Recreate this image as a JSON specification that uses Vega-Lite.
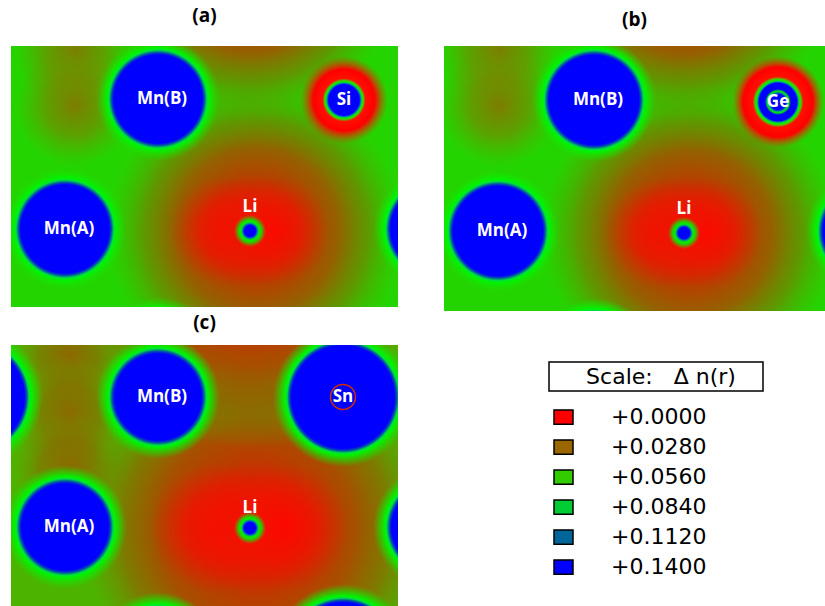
{
  "$schema": "https://vega.github.io/schema/vega-lite/v6.json",
  "padding": {"left": 11, "top": 7, "right": 0, "bottom": 0},
  "background": "white",
  "config": {
    "view": {"stroke": null},
    "title": {"font": "Open Sans", "fontSize": 19, "fontWeight": "bold", "color": "black"}
  },
  "datasets": {
    "atoms": [
      {"panel": "a", "kind": "olive", "label": "", "x": 64, "y": 5},
      {"panel": "a", "kind": "olive", "label": "", "x": 64, "y": 60},
      {"panel": "a", "kind": "halo", "label": "", "x": 245, "y": 185},
      {"panel": "a", "kind": "halo", "label": "", "x": 239, "y": -75},
      {"panel": "a", "kind": "core", "label": "", "x": 215, "y": 185},
      {"panel": "a", "kind": "core", "label": "", "x": 239, "y": 185},
      {"panel": "a", "kind": "core", "label": "", "x": 263, "y": 185},
      {"panel": "a", "kind": "Mn", "label": "Mn(B)", "x": 147, "y": 53},
      {"panel": "a", "kind": "Mn", "label": "Mn(A)", "x": 54, "y": 183},
      {"panel": "a", "kind": "Mn", "label": "", "x": 424, "y": 183},
      {"panel": "a", "kind": "Mn", "label": "", "x": 147, "y": 313},
      {"panel": "a", "kind": "X", "label": "Si", "x": 333, "y": 54},
      {"panel": "a", "kind": "X", "label": "", "x": 333, "y": 314},
      {"panel": "a", "kind": "Li", "label": "Li", "x": 239, "y": 185},

      {"panel": "b", "kind": "olive", "label": "", "x": 55, "y": 5},
      {"panel": "b", "kind": "olive", "label": "", "x": 55, "y": 60},
      {"panel": "b", "kind": "halo", "label": "", "x": 246, "y": 187},
      {"panel": "b", "kind": "halo", "label": "", "x": 240, "y": -73},
      {"panel": "b", "kind": "core", "label": "", "x": 216, "y": 187},
      {"panel": "b", "kind": "core", "label": "", "x": 240, "y": 187},
      {"panel": "b", "kind": "core", "label": "", "x": 264, "y": 187},
      {"panel": "b", "kind": "Mn", "label": "Mn(B)", "x": 150, "y": 54},
      {"panel": "b", "kind": "Mn", "label": "Mn(A)", "x": 54, "y": 185},
      {"panel": "b", "kind": "Mn", "label": "", "x": 424, "y": 185},
      {"panel": "b", "kind": "Mn", "label": "", "x": 150, "y": 314},
      {"panel": "b", "kind": "X", "label": "Ge", "x": 334, "y": 56},
      {"panel": "b", "kind": "X", "label": "", "x": 334, "y": 316},
      {"panel": "b", "kind": "Li", "label": "Li", "x": 240, "y": 187},

      {"panel": "c", "kind": "olive", "label": "", "x": 59, "y": 10},
      {"panel": "c", "kind": "olive", "label": "", "x": 59, "y": 70},
      {"panel": "c", "kind": "olive", "label": "", "x": 59, "y": 125},
      {"panel": "c", "kind": "halo", "label": "", "x": 245, "y": 183},
      {"panel": "c", "kind": "halo", "label": "", "x": 239, "y": -77},
      {"panel": "c", "kind": "core", "label": "", "x": 205, "y": 183},
      {"panel": "c", "kind": "core", "label": "", "x": 239, "y": 183},
      {"panel": "c", "kind": "core", "label": "", "x": 273, "y": 183},
      {"panel": "c", "kind": "Mn", "label": "Mn(B)", "x": 147, "y": 52},
      {"panel": "c", "kind": "Mn", "label": "Mn(A)", "x": 54, "y": 182},
      {"panel": "c", "kind": "Mn", "label": "", "x": 424, "y": 182},
      {"panel": "c", "kind": "Mn", "label": "", "x": 147, "y": 309},
      {"panel": "c", "kind": "X", "label": "Sn", "x": 332, "y": 52},
      {"panel": "c", "kind": "X", "label": "", "x": -38, "y": 52},
      {"panel": "c", "kind": "X", "label": "", "x": 332, "y": 309},
      {"panel": "c", "kind": "Li", "label": "Li", "x": 239, "y": 183}
    ]
  },
  "spacing": 3,
  "vconcat": [
    {
      "spacing": 46,
      "hconcat": [
        {
          "width": 387, "height": 261,
          "title": {"text": "(a)", "offset": 20},
          "view": {"fill": "#24d400", "stroke": null},
          "data": {"name": "atoms"},
          "transform": [{"filter": "datum.panel == 'a'"}],
          "encoding": {
            "x": {"field": "x", "type": "quantitative", "scale": {"domain": [0, 387], "nice": false, "zero": false}, "axis": null},
            "y": {"field": "y", "type": "quantitative", "scale": {"domain": [0, 261], "nice": false, "zero": false, "reverse": true}, "axis": null}
          },
          "layer": [
            {"transform": [{"filter": "datum.kind == 'olive'"}],
             "mark": {"type": "circle", "size": 14400, "opacity": 1, "clip": true,
               "fill": {"gradient": "radial", "x1": 0.5, "y1": 0.5, "r1": 0, "x2": 0.5, "y2": 0.5, "r2": 0.5,
                 "stops": [{"offset": 0, "color": "rgba(130,120,0,0.95)"}, {"offset": 0.5, "color": "rgba(120,135,0,0.65)"}, {"offset": 1, "color": "rgba(100,160,0,0)"}]}}},
            {"transform": [{"filter": "datum.kind == 'halo'"}],
             "mark": {"type": "circle", "size": 90000, "opacity": 1, "clip": true,
               "fill": {"gradient": "radial", "x1": 0.5, "y1": 0.5, "r1": 0, "x2": 0.5, "y2": 0.5, "r2": 0.5,
                 "stops": [{"offset": 0, "color": "rgba(215,35,0,1)"}, {"offset": 0.3, "color": "rgba(192,55,0,1)"}, {"offset": 0.55, "color": "rgba(160,85,0,0.9)"}, {"offset": 0.75, "color": "rgba(130,115,0,0.6)"}, {"offset": 0.9, "color": "rgba(100,150,0,0.25)"}, {"offset": 1, "color": "rgba(80,180,0,0)"}]}}},
            {"transform": [{"filter": "datum.kind == 'core'"}],
             "mark": {"type": "circle", "size": 12100, "opacity": 1, "clip": true,
               "fill": {"gradient": "radial", "x1": 0.5, "y1": 0.5, "r1": 0, "x2": 0.5, "y2": 0.5, "r2": 0.5,
                 "stops": [{"offset": 0, "color": "rgba(250,10,0,1)"}, {"offset": 0.5, "color": "rgba(240,20,0,0.7)"}, {"offset": 1, "color": "rgba(220,35,0,0)"}]}}},
            {"transform": [{"filter": "datum.kind == 'X'"}],
             "mark": {"type": "circle", "size": 7744, "opacity": 1, "clip": true,
               "fill": {"gradient": "radial", "x1": 0.5, "y1": 0.5, "r1": 0, "x2": 0.5, "y2": 0.5, "r2": 0.5,
                 "stops": [{"offset": 0, "color": "#0000ff"}, {"offset": 0.35, "color": "#0000ff"}, {"offset": 0.385, "color": "#0090a0"}, {"offset": 0.41, "color": "#00f000"}, {"offset": 0.44, "color": "#40d000"}, {"offset": 0.49, "color": "#ff1000"}, {"offset": 0.7, "color": "#ff0000"}, {"offset": 0.85, "color": "rgba(230,40,0,0.5)"}, {"offset": 1, "color": "rgba(180,90,0,0)"}]}}},
            {"transform": [{"filter": "datum.kind == 'Mn'"}],
             "mark": {"type": "circle", "size": 15376, "opacity": 1, "clip": true,
               "fill": {"gradient": "radial", "x1": 0.5, "y1": 0.5, "r1": 0, "x2": 0.5, "y2": 0.5, "r2": 0.5,
                 "stops": [{"offset": 0, "color": "#0000ff"}, {"offset": 0.715, "color": "#0000ff"}, {"offset": 0.75, "color": "#0058a0"}, {"offset": 0.79, "color": "#00e040"}, {"offset": 0.82, "color": "#00f400"}, {"offset": 0.9, "color": "rgba(20,230,0,0.55)"}, {"offset": 1, "color": "rgba(30,215,0,0)"}]}}},
            {"transform": [{"filter": "datum.kind == 'Li'"}],
             "mark": {"type": "circle", "size": 1024, "opacity": 1, "clip": true,
               "fill": {"gradient": "radial", "x1": 0.5, "y1": 0.5, "r1": 0, "x2": 0.5, "y2": 0.5, "r2": 0.5,
                 "stops": [{"offset": 0, "color": "#0000ff"}, {"offset": 0.36, "color": "#0000ff"}, {"offset": 0.46, "color": "#0080a0"}, {"offset": 0.56, "color": "#00f000"}, {"offset": 0.7, "color": "rgba(0,240,0,0.85)"}, {"offset": 1, "color": "rgba(40,220,0,0)"}]}}},
            {"transform": [{"filter": "datum.kind == 'Mn' && datum.label != ''"}],
             "mark": {"type": "text", "font": "Open Sans", "fontWeight": "bold", "fontSize": 17, "color": "white", "align": "center", "baseline": "middle", "dx": 4},
             "encoding": {"text": {"field": "label"}}},
            {"transform": [{"filter": "datum.kind == 'Li'"}],
             "mark": {"type": "text", "font": "Open Sans", "fontWeight": "bold", "fontSize": 17, "color": "white", "align": "center", "baseline": "middle", "dy": -24},
             "encoding": {"text": {"field": "label"}}},
            {"transform": [{"filter": "datum.kind == 'X' && datum.label != ''"}],
             "mark": {"type": "text", "font": "Open Sans", "fontWeight": "bold", "fontSize": 17, "color": "white", "align": "center", "baseline": "middle"},
             "encoding": {"text": {"field": "label"}}}
          ]
        },
        {
          "width": 381, "height": 265,
          "title": {"text": "(b)", "offset": 16},
          "view": {"fill": "#24d400", "stroke": null},
          "data": {"name": "atoms"},
          "transform": [{"filter": "datum.panel == 'b'"}],
          "encoding": {
            "x": {"field": "x", "type": "quantitative", "scale": {"domain": [0, 381], "nice": false, "zero": false}, "axis": null},
            "y": {"field": "y", "type": "quantitative", "scale": {"domain": [0, 265], "nice": false, "zero": false, "reverse": true}, "axis": null}
          },
          "layer": [
            {"transform": [{"filter": "datum.kind == 'olive'"}],
             "mark": {"type": "circle", "size": 14400, "opacity": 1, "clip": true,
               "fill": {"gradient": "radial", "x1": 0.5, "y1": 0.5, "r1": 0, "x2": 0.5, "y2": 0.5, "r2": 0.5,
                 "stops": [{"offset": 0, "color": "rgba(130,120,0,0.95)"}, {"offset": 0.5, "color": "rgba(120,135,0,0.65)"}, {"offset": 1, "color": "rgba(100,160,0,0)"}]}}},
            {"transform": [{"filter": "datum.kind == 'halo'"}],
             "mark": {"type": "circle", "size": 90000, "opacity": 1, "clip": true,
               "fill": {"gradient": "radial", "x1": 0.5, "y1": 0.5, "r1": 0, "x2": 0.5, "y2": 0.5, "r2": 0.5,
                 "stops": [{"offset": 0, "color": "rgba(215,35,0,1)"}, {"offset": 0.3, "color": "rgba(192,55,0,1)"}, {"offset": 0.55, "color": "rgba(160,85,0,0.9)"}, {"offset": 0.75, "color": "rgba(130,115,0,0.6)"}, {"offset": 0.9, "color": "rgba(100,150,0,0.25)"}, {"offset": 1, "color": "rgba(80,180,0,0)"}]}}},
            {"transform": [{"filter": "datum.kind == 'core'"}],
             "mark": {"type": "circle", "size": 12100, "opacity": 1, "clip": true,
               "fill": {"gradient": "radial", "x1": 0.5, "y1": 0.5, "r1": 0, "x2": 0.5, "y2": 0.5, "r2": 0.5,
                 "stops": [{"offset": 0, "color": "rgba(250,10,0,1)"}, {"offset": 0.5, "color": "rgba(240,20,0,0.7)"}, {"offset": 1, "color": "rgba(220,35,0,0)"}]}}},
            {"transform": [{"filter": "datum.kind == 'X'"}],
             "mark": {"type": "circle", "size": 8464, "opacity": 1, "clip": true,
               "fill": {"gradient": "radial", "x1": 0.5, "y1": 0.5, "r1": 0, "x2": 0.5, "y2": 0.5, "r2": 0.5,
                 "stops": [{"offset": 0, "color": "#0000ff"}, {"offset": 0.17, "color": "#0000ff"}, {"offset": 0.21, "color": "#00b070"}, {"offset": 0.24, "color": "#00e800"}, {"offset": 0.28, "color": "#0000ff"}, {"offset": 0.41, "color": "#0000ff"}, {"offset": 0.44, "color": "#0090a0"}, {"offset": 0.46, "color": "#00f000"}, {"offset": 0.5, "color": "#40d000"}, {"offset": 0.55, "color": "#ff1000"}, {"offset": 0.76, "color": "#ff0000"}, {"offset": 0.88, "color": "rgba(230,40,0,0.5)"}, {"offset": 1, "color": "rgba(180,90,0,0)"}]}}},
            {"transform": [{"filter": "datum.kind == 'Mn'"}],
             "mark": {"type": "circle", "size": 15376, "opacity": 1, "clip": true,
               "fill": {"gradient": "radial", "x1": 0.5, "y1": 0.5, "r1": 0, "x2": 0.5, "y2": 0.5, "r2": 0.5,
                 "stops": [{"offset": 0, "color": "#0000ff"}, {"offset": 0.725, "color": "#0000ff"}, {"offset": 0.76, "color": "#0058a0"}, {"offset": 0.8, "color": "#00e040"}, {"offset": 0.83, "color": "#00f400"}, {"offset": 0.91, "color": "rgba(20,230,0,0.55)"}, {"offset": 1, "color": "rgba(30,215,0,0)"}]}}},
            {"transform": [{"filter": "datum.kind == 'Li'"}],
             "mark": {"type": "circle", "size": 1024, "opacity": 1, "clip": true,
               "fill": {"gradient": "radial", "x1": 0.5, "y1": 0.5, "r1": 0, "x2": 0.5, "y2": 0.5, "r2": 0.5,
                 "stops": [{"offset": 0, "color": "#0000ff"}, {"offset": 0.36, "color": "#0000ff"}, {"offset": 0.46, "color": "#0080a0"}, {"offset": 0.56, "color": "#00f000"}, {"offset": 0.7, "color": "rgba(0,240,0,0.85)"}, {"offset": 1, "color": "rgba(40,220,0,0)"}]}}},
            {"transform": [{"filter": "datum.kind == 'Mn' && datum.label != ''"}],
             "mark": {"type": "text", "font": "Open Sans", "fontWeight": "bold", "fontSize": 17, "color": "white", "align": "center", "baseline": "middle", "dx": 4},
             "encoding": {"text": {"field": "label"}}},
            {"transform": [{"filter": "datum.kind == 'Li'"}],
             "mark": {"type": "text", "font": "Open Sans", "fontWeight": "bold", "fontSize": 17, "color": "white", "align": "center", "baseline": "middle", "dy": -24},
             "encoding": {"text": {"field": "label"}}},
            {"transform": [{"filter": "datum.kind == 'X' && datum.label != ''"}],
             "mark": {"type": "text", "font": "Open Sans", "fontWeight": "bold", "fontSize": 17, "color": "white", "align": "center", "baseline": "middle"},
             "encoding": {"text": {"field": "label"}}}
          ]
        }
      ]
    },
    {
      "spacing": 150,
      "hconcat": [
        {
          "width": 387, "height": 262,
          "title": {"text": "(c)", "offset": 12},
          "view": {"fill": "#4cb400", "stroke": null},
          "data": {"name": "atoms"},
          "transform": [{"filter": "datum.panel == 'c'"}],
          "encoding": {
            "x": {"field": "x", "type": "quantitative", "scale": {"domain": [0, 387], "nice": false, "zero": false}, "axis": null},
            "y": {"field": "y", "type": "quantitative", "scale": {"domain": [0, 262], "nice": false, "zero": false, "reverse": true}, "axis": null}
          },
          "layer": [
            {"transform": [{"filter": "datum.kind == 'olive'"}],
             "mark": {"type": "circle", "size": 14400, "opacity": 1, "clip": true,
               "fill": {"gradient": "radial", "x1": 0.5, "y1": 0.5, "r1": 0, "x2": 0.5, "y2": 0.5, "r2": 0.5,
                 "stops": [{"offset": 0, "color": "rgba(145,100,0,0.95)"}, {"offset": 0.5, "color": "rgba(135,110,0,0.7)"}, {"offset": 1, "color": "rgba(110,150,0,0)"}]}}},
            {"transform": [{"filter": "datum.kind == 'halo'"}],
             "mark": {"type": "circle", "size": 129600, "opacity": 1, "clip": true,
               "fill": {"gradient": "radial", "x1": 0.5, "y1": 0.5, "r1": 0, "x2": 0.5, "y2": 0.5, "r2": 0.5,
                 "stops": [{"offset": 0, "color": "rgba(225,30,0,1)"}, {"offset": 0.3, "color": "rgba(200,48,0,1)"}, {"offset": 0.55, "color": "rgba(170,75,0,0.95)"}, {"offset": 0.75, "color": "rgba(145,100,0,0.7)"}, {"offset": 0.9, "color": "rgba(115,135,0,0.3)"}, {"offset": 1, "color": "rgba(90,170,0,0)"}]}}},
            {"transform": [{"filter": "datum.kind == 'core'"}],
             "mark": {"type": "circle", "size": 16900, "opacity": 1, "clip": true,
               "fill": {"gradient": "radial", "x1": 0.5, "y1": 0.5, "r1": 0, "x2": 0.5, "y2": 0.5, "r2": 0.5,
                 "stops": [{"offset": 0, "color": "rgba(252,8,0,1)"}, {"offset": 0.5, "color": "rgba(242,18,0,0.75)"}, {"offset": 1, "color": "rgba(225,30,0,0)"}]}}},
            {"transform": [{"filter": "datum.kind == 'X'"}],
             "mark": {"type": "circle", "size": 19600, "opacity": 1, "clip": true,
               "fill": {"gradient": "radial", "x1": 0.5, "y1": 0.5, "r1": 0, "x2": 0.5, "y2": 0.5, "r2": 0.5,
                 "stops": [{"offset": 0, "color": "#0000ff"}, {"offset": 0.735, "color": "#0000ff"}, {"offset": 0.77, "color": "#0058a0"}, {"offset": 0.8, "color": "#00e040"}, {"offset": 0.83, "color": "#00f400"}, {"offset": 0.91, "color": "rgba(20,230,0,0.55)"}, {"offset": 1, "color": "rgba(30,215,0,0)"}]}}},
            {"transform": [{"filter": "datum.kind == 'X' && datum.label != ''"}],
             "mark": {"type": "point", "shape": "circle", "size": 625, "filled": false, "opacity": 1, "stroke": "#d03000", "strokeWidth": 1.5}},
            {"transform": [{"filter": "datum.kind == 'Mn'"}],
             "mark": {"type": "circle", "size": 15376, "opacity": 1, "clip": true,
               "fill": {"gradient": "radial", "x1": 0.5, "y1": 0.5, "r1": 0, "x2": 0.5, "y2": 0.5, "r2": 0.5,
                 "stops": [{"offset": 0, "color": "#0000ff"}, {"offset": 0.7, "color": "#0000ff"}, {"offset": 0.74, "color": "#0058a0"}, {"offset": 0.78, "color": "#00e040"}, {"offset": 0.81, "color": "#00f400"}, {"offset": 0.9, "color": "rgba(20,230,0,0.55)"}, {"offset": 1, "color": "rgba(30,215,0,0)"}]}}},
            {"transform": [{"filter": "datum.kind == 'Li'"}],
             "mark": {"type": "circle", "size": 1024, "opacity": 1, "clip": true,
               "fill": {"gradient": "radial", "x1": 0.5, "y1": 0.5, "r1": 0, "x2": 0.5, "y2": 0.5, "r2": 0.5,
                 "stops": [{"offset": 0, "color": "#0000ff"}, {"offset": 0.36, "color": "#0000ff"}, {"offset": 0.46, "color": "#0080a0"}, {"offset": 0.56, "color": "#00f000"}, {"offset": 0.7, "color": "rgba(0,240,0,0.85)"}, {"offset": 1, "color": "rgba(40,220,0,0)"}]}}},
            {"transform": [{"filter": "datum.kind == 'Mn' && datum.label != ''"}],
             "mark": {"type": "text", "font": "Open Sans", "fontWeight": "bold", "fontSize": 17, "color": "white", "align": "center", "baseline": "middle", "dx": 4},
             "encoding": {"text": {"field": "label"}}},
            {"transform": [{"filter": "datum.kind == 'Li'"}],
             "mark": {"type": "text", "font": "Open Sans", "fontWeight": "bold", "fontSize": 17, "color": "white", "align": "center", "baseline": "middle", "dy": -20},
             "encoding": {"text": {"field": "label"}}},
            {"transform": [{"filter": "datum.kind == 'X' && datum.label != ''"}],
             "mark": {"type": "text", "font": "Open Sans", "fontWeight": "bold", "fontSize": 17, "color": "white", "align": "center", "baseline": "middle"},
             "encoding": {"text": {"field": "label"}}}
          ]
        },
        {
          "spacing": 10,
          "vconcat": [
            {"width": 214, "height": 6, "data": {"values": []}, "mark": "point"},
            {
              "width": 214, "height": 29,
              "view": {"stroke": "black", "strokeWidth": 1.5},
              "data": {"values": [{"t": "Scale:\u00a0\u00a0\u00a0Δ n(r)"}]},
              "mark": {"type": "text", "font": "DejaVu Sans", "fontSize": 22, "align": "center", "baseline": "middle", "dx": 5, "color": "black"},
              "encoding": {"text": {"field": "t"}}
            },
            {
              "width": 29, "height": 180,
              "data": {"values": [
                {"value": "+0.0000"}, {"value": "+0.0280"}, {"value": "+0.0560"},
                {"value": "+0.0840"}, {"value": "+0.1120"}, {"value": "+0.1400"}
              ]},
              "encoding": {
                "y": {"field": "value", "type": "ordinal", "sort": null, "axis": null, "scale": {"type": "point", "padding": 0.5}}
              },
              "layer": [
                {"mark": {"type": "point", "shape": "M-1,-0.75L1,-0.75L1,0.75L-1,0.75Z", "size": 361, "filled": true, "opacity": 1, "stroke": "black", "strokeWidth": 1.5},
                 "encoding": {"fill": {"field": "value", "type": "nominal", "sort": null, "legend": null,
                   "scale": {"domain": ["+0.0000", "+0.0280", "+0.0560", "+0.0840", "+0.1120", "+0.1400"],
                             "range": ["#ff0000", "#996600", "#33cc00", "#00cc33", "#006699", "#0000ff"]}}}},
                {"mark": {"type": "text", "align": "left", "baseline": "middle", "dx": 47.5, "font": "DejaVu Sans", "fontSize": 22, "color": "black"},
                 "encoding": {"text": {"field": "value"}}}
              ]
            }
          ]
        }
      ]
    }
  ]
}
